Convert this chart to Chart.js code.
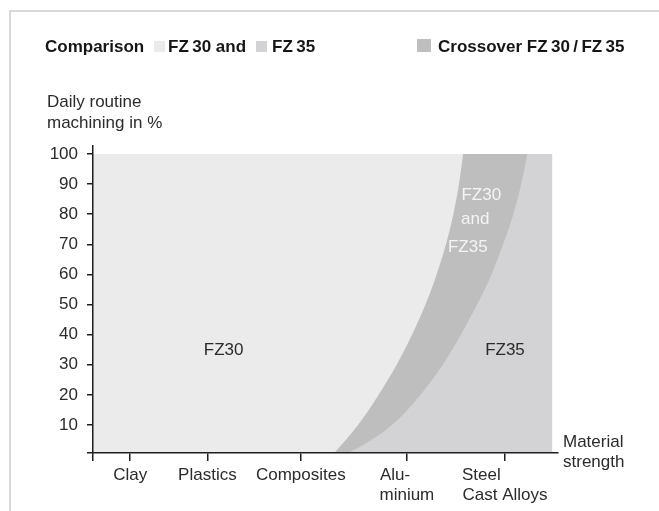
<!DOCTYPE html>
<html><head><meta charset="utf-8">
<script src="https://cdn.jsdelivr.net/npm/chart.js@4.4.1/dist/chart.umd.min.js"></script>
<style>html,body{margin:0;padding:0;background:#fff;} canvas{display:block;}</style>
</head><body>
<canvas id="c" width="659" height="511"></canvas>
<script>
// ---- data ----
const categoryLabels = [['Clay'], ['Plastics'], ['Composites'], ['Alu-', 'minium'], ['Steel', 'Cast Alloys']];
const categoryStrength = [8.0, 24.6, 44.7, 67.5, 88.6];
const yTickValues = [10, 20, 30, 40, 50, 60, 70, 80, 90, 100];
// limit of FZ30 (left edge of crossover band); first two points lie below the axis
const fz30LimitX = [0, 40, 51.5, 57.0, 61.4, 65.3, 68.6, 71.5, 73.9, 75.9, 77.5, 78.7, 79.6];
const fz30LimitY = [-20, -20, 0, 10, 20, 30, 40, 50, 60, 70, 80, 90, 100];
// limit of crossover (right edge of band, start of FZ35)
const fz35LimitX = [0, 53.0, 56.5, 59.8, 64.3, 70.4, 75.2, 79.1, 82.6, 85.7, 88.2, 90.4, 92.1, 93.4];
const fz35LimitY = [0, 0, 2, 5, 10, 20, 30, 40, 50, 60, 70, 80, 90, 100];
// whole field
const fieldX = [0, 98.8];
const fieldY = [100, 100];

const FONT = '"Liberation Sans", Arial, sans-serif';
const colFZ30 = '#ebebeb', colFZ35 = '#d3d3d5', colCross = '#bebebf';

const toPts = (xs, ys) => xs.map((x, i) => ({x, y: ys[i]}));

// pad shorter lines so multi-line labels appear left-aligned
const mctx = document.createElement('canvas').getContext('2d');
mctx.font = '17px ' + FONT;
function padLines(lines) {
  if (lines.length < 2) return lines.length === 1 ? lines[0] : lines;
  const w = Math.max(...lines.map(l => mctx.measureText(l).width));
  const sp = mctx.measureText(' ').width;
  return lines.map(l => l + ' '.repeat(Math.max(0, Math.round((w - mctx.measureText(l).width) / sp))));
}

const textPlugin = {
  id: 'textPlugin',
  beforeDraw(chart) {
    const ctx = chart.ctx;
    ctx.save();
    ctx.fillStyle = '#fff';
    ctx.fillRect(0, 0, chart.width, chart.height);
    ctx.strokeStyle = '#cdcdcd';
    ctx.lineWidth = 1.5;
    ctx.beginPath();
    ctx.moveTo(10, chart.height);
    ctx.lineTo(10, 11);
    ctx.lineTo(chart.width, 11);
    ctx.stroke();
    ctx.restore();
  },
  afterDatasetsDraw(chart) {
    const ctx = chart.ctx;
    const xs = chart.scales.x, ys = chart.scales.y;
    ctx.save();
    ctx.font = '17px ' + FONT;
    ctx.textBaseline = 'alphabetic';
    ctx.textAlign = 'center';
    ctx.fillStyle = '#2b2b2b';
    ctx.fillText('FZ30', xs.getPixelForValue(28.1), ys.getPixelForValue(33.2));
    ctx.fillText('FZ35', xs.getPixelForValue(88.6), ys.getPixelForValue(33.2));
    ctx.fillStyle = '#f4f4f4';
    ctx.fillText('FZ30', xs.getPixelForValue(83.5), ys.getPixelForValue(84.7));
    ctx.fillText('and', xs.getPixelForValue(82.2), ys.getPixelForValue(76.7));
    ctx.fillText('FZ35', xs.getPixelForValue(80.6), ys.getPixelForValue(67.5));
    ctx.restore();
  },
  afterDraw(chart) {
    const ctx = chart.ctx;
    ctx.save();
    ctx.textBaseline = 'alphabetic';
    ctx.textAlign = 'left';
    // header legend
    ctx.font = 'bold 17px ' + FONT;
    ctx.fillStyle = '#161616';
    ctx.fillText('Comparison', 45, 52);
    ctx.fillText('FZ\u200930 and', 168, 52);
    ctx.fillText('FZ\u200935', 272, 52);
    ctx.fillText('Crossover FZ\u200930\u2009/\u2009FZ\u200935', 438, 52);
    ctx.fillStyle = colFZ30; ctx.fillRect(154, 41, 11, 11);
    ctx.fillStyle = colFZ35; ctx.fillRect(256, 41, 11, 11);
    ctx.fillStyle = colCross; ctx.fillRect(417, 39, 14, 13);
    // axis titles
    ctx.font = '17px ' + FONT;
    ctx.fillStyle = '#2b2b2b';
    ctx.fillText('Daily routine', 47, 107);
    ctx.fillText('machining in %', 47, 128);
    ctx.fillText('Material', 563, 447);
    ctx.fillText('strength', 563, 467);
    ctx.restore();
  }
};

new Chart(document.getElementById('c'), {
  type: 'line',
  data: {
    datasets: [
      { label: 'FZ30', data: toPts(fz30LimitX, fz30LimitY), fill: {value: 100},
        backgroundColor: colFZ30, borderColor: 'rgba(0,0,0,0)', borderWidth: 0,
        pointRadius: 0, cubicInterpolationMode: 'monotone' },
      { label: 'Crossover FZ30/FZ35', data: toPts(fz35LimitX, fz35LimitY), fill: {value: 100},
        backgroundColor: colCross, borderColor: 'rgba(0,0,0,0)', borderWidth: 0,
        pointRadius: 0, cubicInterpolationMode: 'monotone' },
      { label: 'FZ35', data: toPts(fieldX, fieldY), fill: 'start',
        backgroundColor: colFZ35, borderColor: 'rgba(0,0,0,0)', borderWidth: 0,
        pointRadius: 0 }
    ]
  },
  options: {
    responsive: false,
    animation: false,
    devicePixelRatio: 1,
    layout: { padding: { left: 0, right: 101, top: 146, bottom: 0 } },
    plugins: { legend: { display: false }, tooltip: { enabled: false } },
    scales: {
      x: {
        type: 'linear', min: 0, max: 100,
        afterFit(s) { s.height = 58; },
        afterBuildTicks(s) { s.ticks = [{value: 0}].concat(categoryStrength.map(v => ({value: v}))); },
        ticks: {
          autoSkip: false, maxRotation: 0, padding: 4, color: '#2b2b2b',
          font: { family: FONT, size: 17 },
          callback(v) {
            const i = categoryStrength.indexOf(v);
            return i < 0 ? '' : padLines(categoryLabels[i]);
          }
        },
        grid: { drawOnChartArea: false, drawTicks: true, tickLength: 8, color: '#1e1e1e', lineWidth: 1.5, z: 1 },
        border: { display: true, color: '#1e1e1e', width: 1.5, z: 1 }
      },
      y: {
        type: 'linear', min: 0.7, max: 102.66,
        afterFit(s) { s.width = 93; },
        afterBuildTicks(s) { s.ticks = [{value: 0.7}].concat(yTickValues.map(v => ({value: v}))); },
        ticks: {
          padding: 9, color: '#2b2b2b',
          font: { family: FONT, size: 17 },
          callback(v) { return yTickValues.includes(v) ? String(v) : ''; }
        },
        grid: { drawOnChartArea: false, drawTicks: true, tickLength: 6, color: '#1e1e1e', lineWidth: 1.5, z: 1 },
        border: { display: true, color: '#1e1e1e', width: 1.5, z: 1 }
      }
    }
  },
  plugins: [textPlugin]
});
</script>
</body></html>
